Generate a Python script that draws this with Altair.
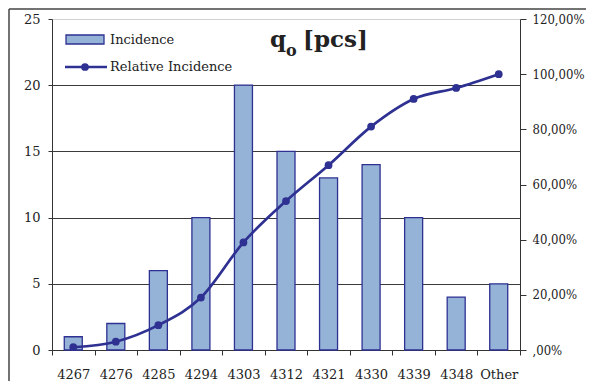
import altair as alt
import pandas as pd

categories = ["4267", "4276", "4285", "4294", "4303", "4312", "4321", "4330", "4339", "4348", "Other"]
incidence = [1, 2, 6, 10, 20, 15, 13, 14, 10, 4, 5]
relative = [1, 3, 9, 19, 39, 54, 67, 81, 91, 95, 100]

df = pd.DataFrame({"cat": categories, "inc": incidence, "rel": relative})

FONT = "DejaVu Serif"
FONTC = "DejaVu Serif Condensed"
BAR_FILL = "#95B3D7"
NAVY = "#2E3192"
TXT = "#222222"
FS = 13

x_enc = alt.X("cat:N", sort=categories, title=None,
              scale=alt.Scale(paddingInner=0.0, paddingOuter=0.0),
              axis=alt.Axis(labelAngle=0, labelFont=FONT, labelFontSize=FS, labelColor=TXT,
                            tickBand="extent", tickSize=5, tickColor="#333", domainColor="#333",
                            labelPadding=13, grid=False))

bars = alt.Chart(df).mark_bar(size=18, color=BAR_FILL, stroke=NAVY, strokeWidth=1.3).encode(
    x=x_enc,
    y=alt.Y("inc:Q", title=None, scale=alt.Scale(domain=[0, 25], nice=False),
            axis=alt.Axis(values=[0, 5, 10, 15, 20, 25], labelFont=FONT, labelFontSize=FS,
                          labelColor=TXT, tickSize=4, tickColor="#333", domainColor="#333",
                          labelPadding=8,
                          gridColor={"condition": {"test": "datum.value >= 25", "value": "#d0d0d0"},
                                     "value": "#3a3a3a"},
                          gridWidth=1)),
)

line = alt.Chart(df).mark_line(color=NAVY, strokeWidth=2.7, interpolate="monotone",
                               point=alt.OverlayMarkDef(color=NAVY, filled=True, size=60)).encode(
    x=alt.X("cat:N", sort=categories),
    y=alt.Y("rel:Q", title=None, scale=alt.Scale(domain=[0, 120], nice=False),
            axis=alt.Axis(orient="right", values=[0, 20, 40, 60, 80, 100, 120], grid=False,
                          labelFont=FONTC, labelFontSize=FS, labelColor=TXT,
                          tickSize=6, tickColor="#333", domainColor="#333", labelPadding=6,
                          labelExpr="datum.value == 0 ? ',00%' : replace(format(datum.value, '.2f'), '.', ',') + '%'")),
)

main = alt.layer(bars, line).resolve_scale(y="independent")

deco_df = pd.DataFrame({"d": [0]})
base = alt.Chart(deco_df)

swatch = base.mark_rect(fill=BAR_FILL, stroke=NAVY, strokeWidth=1.3).encode(
    x=alt.value(14), x2=alt.value(52), y=alt.value(16), y2=alt.value(25))
leg_line = base.mark_rule(color=NAVY, strokeWidth=2.7).encode(
    x=alt.value(13), x2=alt.value(55), y=alt.value(48))
leg_dot = base.mark_point(color=NAVY, filled=True, size=60, opacity=1).encode(
    x=alt.value(33), y=alt.value(48))
leg_t1 = base.mark_text(text="Incidence", font=FONT, fontSize=FS, color=TXT,
                        align="left", baseline="middle").encode(x=alt.value(58), y=alt.value(21))
leg_t2 = base.mark_text(text="Relative Incidence", font=FONT, fontSize=FS, color=TXT,
                        align="left", baseline="middle").encode(x=alt.value(58), y=alt.value(48))

t_q = base.mark_text(text="q", font=FONT, fontSize=23, fontWeight="bold", color="#222",
                     align="left", baseline="alphabetic").encode(x=alt.value(218), y=alt.value(28))
t_o = base.mark_text(text="o", font=FONT, fontSize=16, fontWeight="bold", color="#222",
                     align="left", baseline="alphabetic").encode(x=alt.value(234), y=alt.value(37))
t_p = base.mark_text(text="[pcs]", font=FONT, fontSize=23, fontWeight="bold", color="#222",
                     align="left", baseline="alphabetic").encode(x=alt.value(251), y=alt.value(28))

frame_l = base.mark_rule(color="#444", strokeWidth=1.5).encode(
    x=alt.value(-43), y=alt.value(-10), y2=alt.value(362))
frame_t = base.mark_rule(color="#444", strokeWidth=1.5).encode(
    x=alt.value(-43), x2=alt.value(534), y=alt.value(-10))

chart = alt.layer(main, swatch, leg_line, leg_dot, leg_t1, leg_t2, t_q, t_o, t_p,
                  frame_l, frame_t).properties(
    width=468, height=331,
    autosize=alt.AutoSizeParams(type="none"),
    padding={"left": 44, "top": 11, "right": 66, "bottom": 31},
    background="white",
).configure_view(stroke=None)

chart.save("out.html", embed_options={"renderer": "svg", "actions": False})
